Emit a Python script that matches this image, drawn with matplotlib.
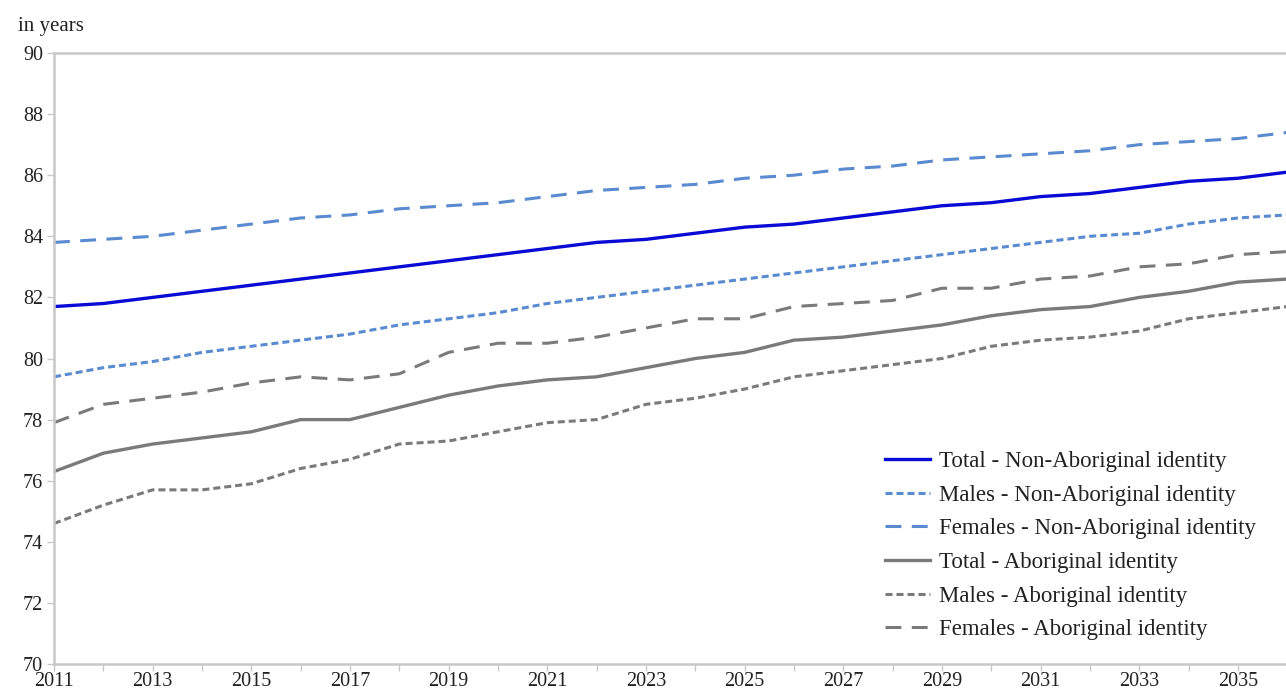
import matplotlib
matplotlib.use("Agg")
import matplotlib.pyplot as plt
import numpy as np

years = list(range(2011, 2037))
total_non = [81.7, 81.8, 82.0, 82.2, 82.4, 82.6, 82.8, 83.0, 83.2, 83.4, 83.6, 83.8, 83.9,
             84.1, 84.3, 84.4, 84.6, 84.8, 85.0, 85.1, 85.3, 85.4, 85.6, 85.8, 85.9, 86.1]
males_non = [79.4, 79.7, 79.9, 80.2, 80.4, 80.6, 80.8, 81.1, 81.3, 81.5, 81.8, 82.0, 82.2,
             82.4, 82.6, 82.8, 83.0, 83.2, 83.4, 83.6, 83.8, 84.0, 84.1, 84.4, 84.6, 84.7]
females_non = [83.8, 83.9, 84.0, 84.2, 84.4, 84.6, 84.7, 84.9, 85.0, 85.1, 85.3, 85.5, 85.6,
               85.7, 85.9, 86.0, 86.2, 86.3, 86.5, 86.6, 86.7, 86.8, 87.0, 87.1, 87.2, 87.4]
total_abo = [76.3, 76.9, 77.2, 77.4, 77.6, 78.0, 78.0, 78.4, 78.8, 79.1, 79.3, 79.4, 79.7,
             80.0, 80.2, 80.6, 80.7, 80.9, 81.1, 81.4, 81.6, 81.7, 82.0, 82.2, 82.5, 82.6]
males_abo = [74.6, 75.2, 75.7, 75.7, 75.9, 76.4, 76.7, 77.2, 77.3, 77.6, 77.9, 78.0, 78.5,
             78.7, 79.0, 79.4, 79.6, 79.8, 80.0, 80.4, 80.6, 80.7, 80.9, 81.3, 81.5, 81.7]
females_abo = [77.9, 78.5, 78.7, 78.9, 79.2, 79.4, 79.3, 79.5, 80.2, 80.5, 80.5, 80.7, 81.0,
               81.3, 81.3, 81.7, 81.8, 81.9, 82.3, 82.3, 82.6, 82.7, 83.0, 83.1, 83.4, 83.5]
labels = ["Total - Non-Aboriginal identity", "Males - Non-Aboriginal identity",
          "Females - Non-Aboriginal identity", "Total - Aboriginal identity",
          "Males - Aboriginal identity", "Females - Aboriginal identity"]
xtick_labels = list(range(2011, 2036, 2))
yticks = list(range(70, 91, 2))

plt.rcParams['font.family'] = ['Liberation Serif', 'DejaVu Serif']

fig = plt.figure(figsize=(12.86, 6.98), dpi=100)
ax = fig.add_axes([54/1286, 1 - 664/698, 1 - 54/1286 + 0.001, (664 - 53)/698])

blue = "#0A0AD6"
lblue = "#5A8AD0"
gray = "#7A7A7A"

ax.plot(years, total_non, color=blue, lw=2.4, label=labels[0])
ax.plot(years, males_non, color=lblue, lw=2.2, dashes=(2.3, 1.3), label=labels[1])
ax.plot(years, females_non, color=lblue, lw=2.2, dashes=(5.2, 3.4), label=labels[2])
ax.plot(years, total_abo, color=gray, lw=2.4, label=labels[3])
ax.plot(years, males_abo, color=gray, lw=2.2, dashes=(2.3, 1.3), label=labels[4])
ax.plot(years, females_abo, color=gray, lw=2.2, dashes=(5.2, 3.4), label=labels[5])

ax.set_xlim(2011, 2011 + (1286 - 54) / ((1247 - 54) / 24))
ax.set_ylim(70, 90)
ax.set_yticks(yticks)
ax.set_xticks(years)
ax.set_xticklabels([str(y) if y in xtick_labels else "" for y in years])

for s in ["left", "bottom", "top"]:
    ax.spines[s].set_color("#C8C8C8")
    ax.spines[s].set_linewidth(1.8)
ax.spines["right"].set_visible(False)
ax.tick_params(axis="both", colors="#C8C8C8", labelcolor="#222222", labelsize=14.5,
               direction="out", length=5, width=1)
ax.tick_params(axis="y", pad=3)
ax.tick_params(axis="x", pad=1)

fig.text(18/1286, 1 - 26/698, "in years", fontsize=15, color="#222222", va="center")

leg = ax.legend(loc="upper left", bbox_to_anchor=(885/1286, 1 - 451/698),
                bbox_transform=fig.transFigure, frameon=False, fontsize=16.5,
                handlelength=1.95, handletextpad=0.4, labelspacing=0.55, borderaxespad=0,
                borderpad=0)
for t in leg.get_texts():
    t.set_color("#222222")

fig.savefig("out.png", dpi=100)
